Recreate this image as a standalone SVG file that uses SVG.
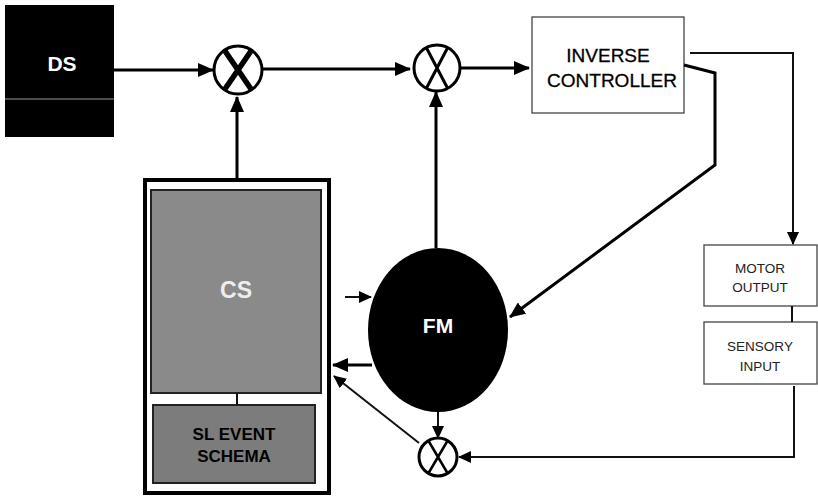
<svg xmlns="http://www.w3.org/2000/svg" width="818" height="498" viewBox="0 0 818 498">
<style>
.ln{fill:none;stroke:#000;stroke-width:3}
.thin{fill:none;stroke:#111;stroke-width:2}
.box{fill:#fff;stroke:#444;stroke-width:1.3}
.mul{fill:#fff;stroke:#000;stroke-width:3}
.t{font-family:"Liberation Sans",Arial,sans-serif;text-anchor:middle}
</style>
<defs>
<marker id="ah" markerUnits="userSpaceOnUse" markerWidth="16" markerHeight="14" refX="15" refY="7" orient="auto"><path d="M0,0 L16,7 L0,14 z" fill="#000"/></marker>
<marker id="as" markerUnits="userSpaceOnUse" markerWidth="13" markerHeight="12" refX="12" refY="6" orient="auto"><path d="M0,0 L13,6 L0,12 z" fill="#000"/></marker>
</defs>
<rect width="818" height="498" fill="#fff"/>
<g id="ds">
<rect x="5" y="5" width="109" height="132" fill="#000"/>
<line x1="5" y1="99" x2="114" y2="99" stroke="#999" stroke-width="1"/>
<text class="t" x="62" y="71" font-size="21" font-weight="bold" fill="#fff">DS</text>
</g>
<g id="mul1">
<circle class="mul" cx="238" cy="70" r="24"/>
<path d="M225,51 L251,89 M251,51 L225,89" stroke="#000" stroke-width="5.5"/>
</g>
<g id="mul2">
<circle class="mul" cx="437" cy="68" r="23"/>
<path d="M426,47 L448,89 M448,47 L426,89" stroke="#000" stroke-width="3"/>
</g>
<g id="mul3">
<circle class="mul" cx="438" cy="457" r="19" stroke-width="2.5"/>
<path d="M428,440 L448,474 M448,440 L428,474" stroke="#000" stroke-width="2.5"/>
</g>
<g id="inverse-controller">
<rect class="box" x="532" y="17" width="152" height="96"/>
<text class="t" x="608" y="62" font-size="19" fill="#000" stroke="#000" stroke-width="0.3">INVERSE</text>
<text class="t" x="612" y="87" font-size="19" fill="#000" stroke="#000" stroke-width="0.3">CONTROLLER</text>
</g>
<g id="motor-output">
<rect class="box" x="704" y="245" width="113" height="61"/>
<text class="t" x="760" y="273" font-size="13.5" fill="#222">MOTOR</text>
<text class="t" x="760" y="292" font-size="13.5" fill="#222">OUTPUT</text>
</g>
<g id="sensory-input">
<rect class="box" x="704" y="322" width="113" height="62"/>
<text class="t" x="760" y="351" font-size="13.5" fill="#222">SENSORY</text>
<text class="t" x="760" y="371" font-size="13.5" fill="#222">INPUT</text>
</g>
<g id="cs-container">
<rect x="145" y="180" width="184" height="313" fill="#fff" stroke="#000" stroke-width="4"/>
</g>
<g id="cs">
<rect x="151" y="190" width="170" height="203" fill="#8a8a8a" stroke="#222" stroke-width="2"/>
<text class="t" x="236" y="298" font-size="23" font-weight="bold" fill="#eee">CS</text>
</g>
<g id="sl-event-schema">
<rect x="153" y="405" width="162" height="78" fill="#7c7c7c" stroke="#222" stroke-width="2"/>
<text class="t" x="234" y="440" font-size="17" font-weight="bold" fill="#000">SL EVENT</text>
<text class="t" x="234" y="462" font-size="17" font-weight="bold" fill="#000">SCHEMA</text>
</g>
<g id="fm">
<ellipse cx="438" cy="330" rx="70" ry="82" fill="#000"/>
<text class="t" x="438" y="333" font-size="21" font-weight="bold" fill="#fff">FM</text>
</g>
<g id="connectors">
<line class="ln" x1="114" y1="70" x2="213" y2="70" marker-end="url(#ah)"/>
<line class="ln" x1="237" y1="178" x2="237" y2="97" marker-end="url(#ah)"/>
<line class="ln" x1="262" y1="69" x2="410" y2="69" marker-end="url(#ah)"/>
<line class="ln" x1="436" y1="248" x2="436" y2="92" marker-end="url(#ah)"/>
<line class="ln" x1="460" y1="68" x2="529" y2="68" marker-end="url(#ah)"/>
<polyline class="thin" points="690,53 793,53 793,244" marker-end="url(#as)"/>
<polyline class="ln" points="684,65 715,73 715,165 510,317" marker-end="url(#ah)"/>
<line class="thin" x1="792" y1="306" x2="792" y2="322"/>
<polyline class="thin" points="794,386 794,457 459,457" marker-end="url(#as)"/>
<line class="thin" x1="438" y1="412" x2="438" y2="438" marker-end="url(#as)"/>
<line class="thin" x1="345" y1="297" x2="371" y2="297" marker-end="url(#as)"/>
<line class="ln" x1="372" y1="365" x2="333" y2="365" marker-end="url(#ah)"/>
<line class="thin" x1="419" y1="443" x2="334" y2="376" marker-end="url(#as)"/>
<line class="thin" x1="237" y1="393" x2="237" y2="405"/>
</g>
</svg>
